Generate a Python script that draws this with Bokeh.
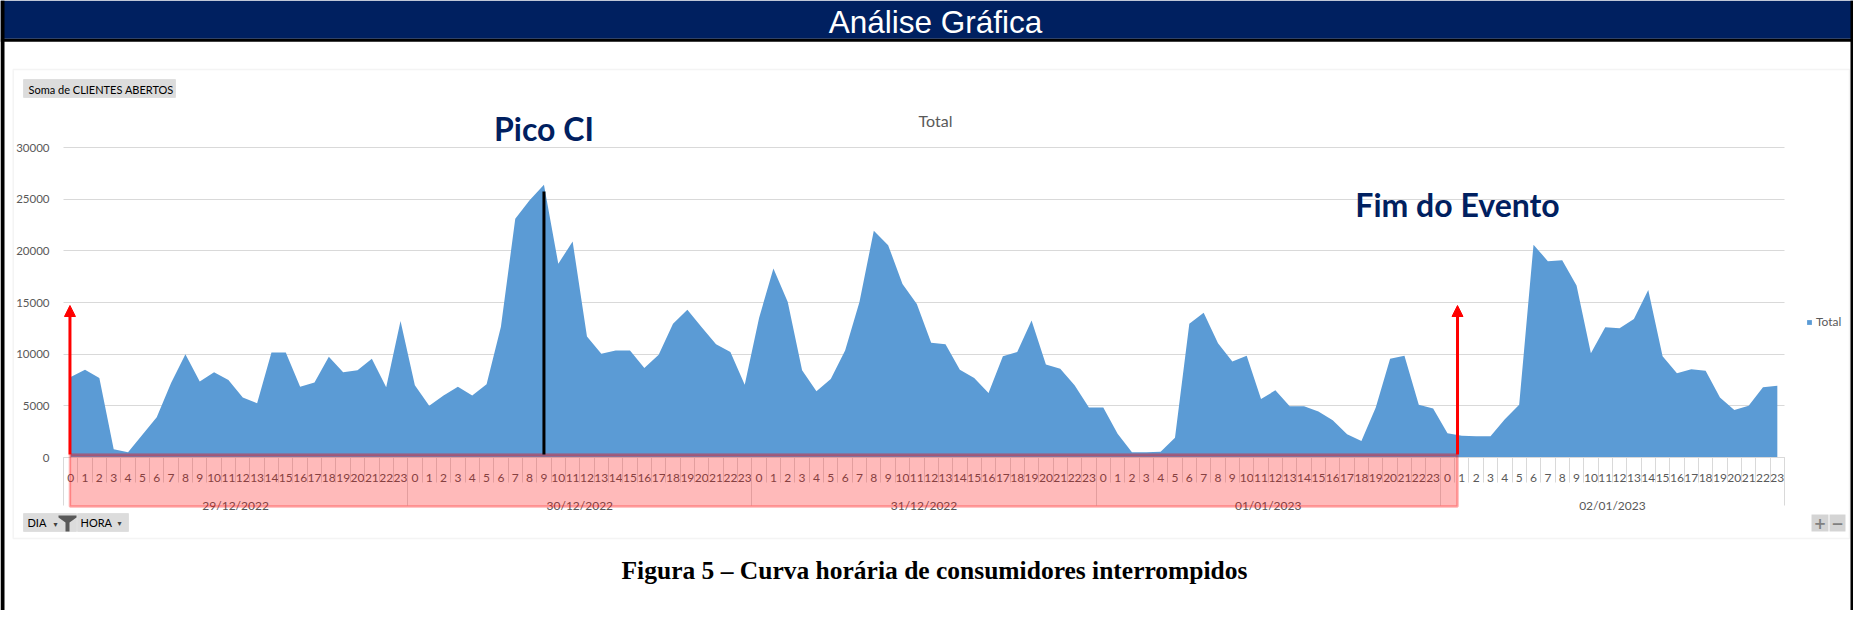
from bokeh.plotting import figure
from bokeh.models import (Range1d, LinearAxis, FixedTicker, BoxAnnotation, Label,
                          Legend, LegendItem, Arrow, NormalHead, PolyAnnotation,
                          ColumnDataSource, Grid)
from bokeh.embed import file_html
from bokeh.resources import INLINE

# ---------------- data ----------------
days = ["29/12/2022", "30/12/2022", "31/12/2022", "01/01/2023", "02/01/2023"]
hours = [str(h) for h in range(24)]
y_ticks = [0, 5000, 10000, 15000, 20000, 25000, 30000]

total_29_12 = [7800, 8500, 7700, 800, 500, 2200, 3900, 7200, 10000, 7350, 8250, 7500,
               5800, 5250, 10150, 10150, 6850, 7250, 9750, 8250, 8450, 9550, 6800, 13200]
total_30_12 = [7000, 5000, 6000, 6850, 6000, 7100, 12650, 23100, 24900, 26400, 18750, 20900,
               11700, 10050, 10350, 10350, 8650, 9950, 12950, 14300, 12600, 10950, 10200, 7050]
total_31_12 = [13500, 18300, 15050, 8450, 6400, 7600, 10350, 15050, 21950, 20550, 16800, 14850,
               11100, 10950, 8500, 7700, 6250, 9800, 10200, 13250, 9000, 8600, 7000, 4850]
total_01_01 = [4850, 2300, 500, 500, 550, 1900, 12950, 14000, 11050, 9300, 9850, 5650,
               6500, 4950, 4950, 4450, 3600, 2250, 1600, 4850, 9550, 9850, 5100, 4750]
total_02_01 = [2350, 2100, 2050, 2050, 3700, 5100, 20600, 19000, 19100, 16650, 10100, 12600,
               12500, 13400, 16200, 9800, 8150, 8550, 8400, 5800, 4600, 5000, 6800, 6950]

series = total_29_12 + total_30_12 + total_31_12 + total_01_01 + total_02_01
n = len(series)
x_centers = [i + 0.5 for i in range(n)]
hour_labels = [hours[i % 24] for i in range(n)]
day_centers = [24 * d + 12 for d in range(len(days))]
day_bounds = [24 * d for d in range(len(days) + 1)]

# ---------------- geometry (pixels of the reference picture) ----------------
W, H = 1853, 610
X0_PX, X1_PX = 63.0, 1784.0      # category band
Y0_PX, YT_PX = 457.0, 147.0      # value 0 and value 30000
KX = (X1_PX - X0_PX) / n
KY = (Y0_PX - YT_PX) / 30000.0


def dx(px):
    return (px - X0_PX) / KX


def dy(py):
    return (Y0_PX - py) / KY


GRAY_TXT = "#595959"
GRID = "#d9d9d9"
NAVY = "#002060"

p = figure(width=W, height=H, output_backend="svg", toolbar_location=None,
           x_range=Range1d(dx(0), dx(W)), y_range=Range1d(dy(H), dy(0)),
           x_axis_location=None, y_axis_location=None, min_border=0)
p.outline_line_color = None
p.background_fill_color = "white"
p.border_fill_color = "white"
for g in p.grid:
    g.visible = False

# gridlines
if "cross_bounds" in Grid.properties():
    yg = Grid(dimension=1, ticker=FixedTicker(ticks=y_ticks), grid_line_color=GRID,
              cross_bounds=(0, n))
    p.add_layout(yg)
else:
    p.segment(x0=0, x1=n, y0=y_ticks, y1=y_ticks, line_color=GRID, line_width=1,
              level="underlay")

# area
src = ColumnDataSource(dict(x=x_centers, y=series))
area = p.varea(x="x", y1=0, y2="y", source=src, fill_color="#5B9BD5")

# value axis
yax = LinearAxis(fixed_location=0, ticker=FixedTicker(ticks=y_ticks),
                 axis_line_color=None, major_tick_line_color=None, minor_tick_line_color=None,
                 major_label_standoff=8, major_label_text_color=GRAY_TXT,
                 major_label_text_font="Lato", major_label_text_font_size="11.5px")
p.add_layout(yax, "left")

# category axes (hour row, separators, day row)
hax = LinearAxis(fixed_location=0, bounds=(0, n), ticker=FixedTicker(ticks=x_centers),
                 major_label_overrides={x: l for x, l in zip(x_centers, hour_labels)},
                 axis_line_color=GRID, major_tick_line_color=None, minor_tick_line_color=None,
                 major_label_standoff=10, major_label_text_color=GRAY_TXT,
                 major_label_text_font="Lato", major_label_text_font_size="12px")
p.add_layout(hax, "below")

hsep = LinearAxis(fixed_location=0, bounds=(0, n), ticker=FixedTicker(ticks=list(range(n + 1))),
                  axis_line_color=None, major_tick_in=0, major_tick_out=25,
                  major_tick_line_color=GRID, minor_tick_line_color=None,
                  major_label_text_font_size="0px", major_label_text_alpha=0)
p.add_layout(hsep, "below")

dax = LinearAxis(fixed_location=0, bounds=(0, n), ticker=FixedTicker(ticks=day_centers),
                 major_label_overrides={c: d for c, d in zip(day_centers, days)},
                 axis_line_color=None, major_tick_line_color=None, minor_tick_line_color=None,
                 major_label_standoff=34, major_label_text_color=GRAY_TXT,
                 major_label_text_font="Lato", major_label_text_font_size="12px")
p.add_layout(dax, "below")

dsep = LinearAxis(fixed_location=0, bounds=(0, n), ticker=FixedTicker(ticks=day_bounds),
                  axis_line_color=None, major_tick_in=0, major_tick_out=48,
                  major_tick_line_color=GRID, minor_tick_line_color=None,
                  major_label_text_font_size="0px", major_label_text_alpha=0)
p.add_layout(dsep, "below")

# legend
legend = Legend(items=[LegendItem(label="Total", renderers=[area])],
                location=(1806, H - 329), margin=0, padding=0,
                glyph_width=6, glyph_height=6, label_standoff=4, label_height=12,
                label_text_font="Lato", label_text_font_size="12px",
                label_text_color=GRAY_TXT, border_line_color=None,
                background_fill_alpha=0)
p.add_layout(legend)

# ---------------- event annotations ----------------
event_start = 0.45
event_end = 97.2
p.add_layout(BoxAnnotation(left=event_start, right=event_end, top=dy(454), bottom=dy(506),
                           fill_color="red", fill_alpha=0.27, line_color="red",
                           line_width=2.5))
for xa in (event_start, event_end):
    p.add_layout(Arrow(end=NormalHead(size=11, fill_color="red", line_color="red"),
                       x_start=xa, y_start=dy(454), x_end=xa, y_end=dy(305),
                       line_color="red", line_width=3))

peak = series.index(max(series))
p.add_layout(Arrow(end=None, x_start=peak + 0.5, y_start=dy(454), x_end=peak + 0.5,
                   y_end=dy(191), line_color="black", line_width=3))

p.add_layout(Label(x=peak + 0.5, y=dy(128), text="Pico CI", text_align="center",
                   text_baseline="middle", text_font="Lato", text_font_style="bold",
                   text_font_size="32px", text_color=NAVY))
p.add_layout(Label(x=event_end, y=dy(204), text="Fim do Evento", text_align="center",
                   text_baseline="middle", text_font="Lato", text_font_style="bold",
                   text_font_size="32px", text_color=NAVY))

p.add_layout(Label(x=dx(935), y=dy(120), text="Total", text_align="center",
                   text_baseline="middle", text_font="Lato", text_font_size="16px",
                   text_color=GRAY_TXT))

# ---------------- page decoration ----------------
p.add_layout(BoxAnnotation(left=dx(12.7), right=dx(1849), top=dy(69), bottom=dy(538),
                           fill_alpha=0, line_color=GRID, line_width=1.5))
p.add_layout(BoxAnnotation(bottom=dy(38.3), fill_color=NAVY, fill_alpha=1, line_color=None))
p.add_layout(BoxAnnotation(top=dy(38.3), bottom=dy(41.3), fill_color="black", fill_alpha=1,
                           line_color=None))
p.add_layout(BoxAnnotation(right=dx(4), fill_color="black", fill_alpha=1, line_color=None))
p.add_layout(BoxAnnotation(left=dx(W - 3), fill_color="black", fill_alpha=1,
                           line_color=None))
p.add_layout(Label(x=dx(935), y=dy(21), text="Análise Gráfica", text_align="center",
                   text_baseline="middle", text_font="Liberation Sans",
                   text_font_size="31.5px", text_color="white"))

BTN_FILL = "#dcdcdc"
BTN_LINE = "#c0c0c0"
p.add_layout(BoxAnnotation(left=dx(23), right=dx(175), top=dy(79), bottom=dy(97),
                           fill_color=BTN_FILL, fill_alpha=1, line_color=BTN_LINE))
p.add_layout(Label(x=dx(28), y=dy(88.5), text="Soma de CLIENTES ABERTOS",
                   text_baseline="middle", text_font="Lato", text_font_size="11px",
                   text_color="black"))

p.add_layout(BoxAnnotation(left=dx(23), right=dx(76), top=dy(513), bottom=dy(531),
                           fill_color=BTN_FILL, fill_alpha=1, line_color=BTN_LINE))
p.add_layout(BoxAnnotation(left=dx(77), right=dx(128), top=dy(513), bottom=dy(531),
                           fill_color=BTN_FILL, fill_alpha=1, line_color=BTN_LINE))
p.add_layout(Label(x=dx(27), y=dy(522), text="DIA", text_baseline="middle",
                   text_font="Lato", text_font_size="11px", text_color="black"))
p.add_layout(Label(x=dx(80), y=dy(522), text="HORA", text_baseline="middle",
                   text_font="Lato", text_font_size="11px", text_color="black"))
p.add_layout(Label(x=dx(53), y=dy(524), text="▾", text_baseline="middle",
                   text_font="DejaVu Sans", text_font_size="8px", text_color="#404040"))
p.add_layout(Label(x=dx(117), y=dy(523), text="▾", text_baseline="middle",
                   text_font="DejaVu Sans", text_font_size="8px", text_color="#404040"))
fx = [58, 76, 76, 69, 69, 65, 65, 58]
fy = [515, 515, 517, 522, 531, 531, 522, 517]
p.add_layout(PolyAnnotation(xs=[dx(v) for v in fx], ys=[dy(v) for v in fy],
                            fill_color="#595959", fill_alpha=1, line_color=None))

p.add_layout(BoxAnnotation(left=dx(1811), right=dx(1828), top=dy(514), bottom=dy(531),
                           fill_color="#d4d4d4", fill_alpha=1, line_color=None))
p.add_layout(BoxAnnotation(left=dx(1829), right=dx(1845), top=dy(514), bottom=dy(531),
                           fill_color="#d4d4d4", fill_alpha=1, line_color=None))
p.add_layout(Label(x=dx(1819.5), y=dy(522.5), text="+", text_align="center",
                   text_baseline="middle", text_font="DejaVu Sans", text_font_style="bold",
                   text_font_size="15px", text_color="#808080"))
p.add_layout(Label(x=dx(1837), y=dy(522.5), text="−", text_align="center",
                   text_baseline="middle", text_font="DejaVu Sans", text_font_style="bold",
                   text_font_size="15px", text_color="#808080"))

p.add_layout(Label(x=dx(934), y=dy(570), text="Figura 5 – Curva horária de consumidores interrompidos",
                   text_align="center", text_baseline="middle", text_font="Liberation Serif",
                   text_font_style="bold", text_font_size="25.5px", text_color="black"))

open("out.html", "w").write(file_html(p, INLINE))
